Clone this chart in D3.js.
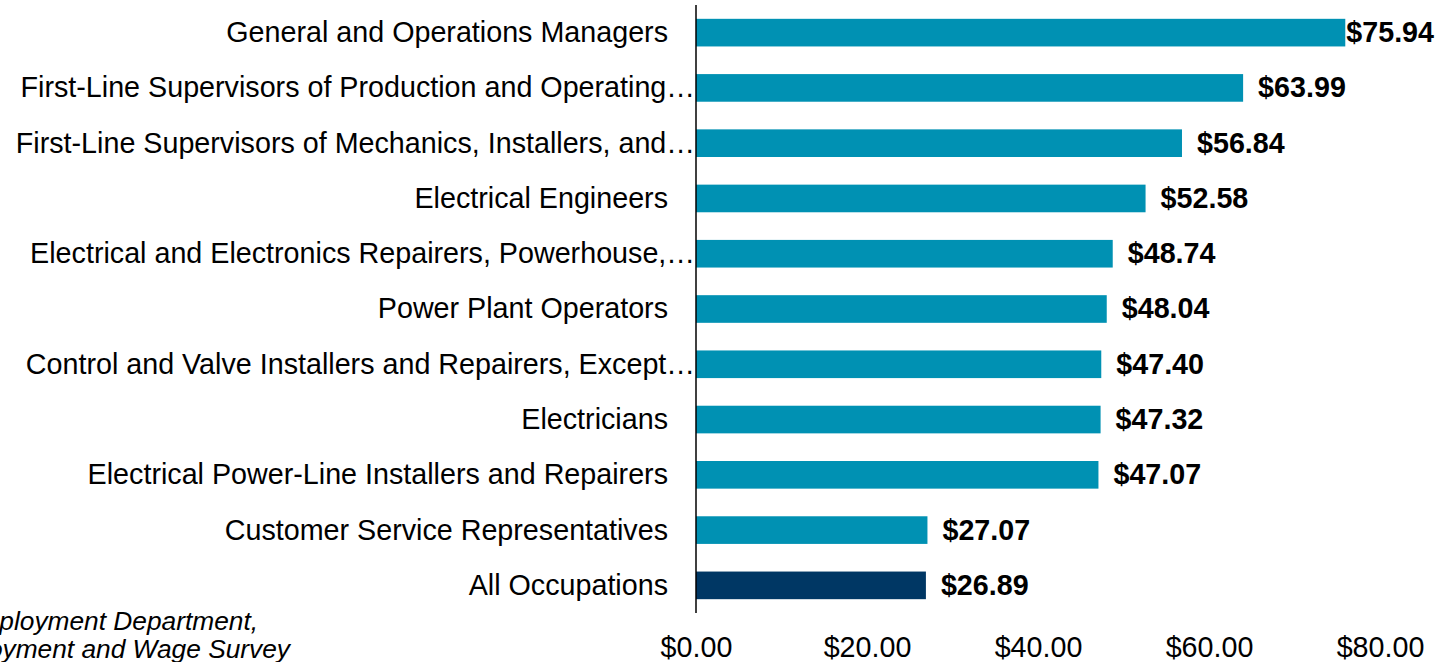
<!DOCTYPE html>
<html>
<head>
<meta charset="utf-8">
<script src="https://cdn.jsdelivr.net/npm/d3@7"></script>
<style>
  body { margin: 0; background: #fff; }
  svg { display: block; font-family: "Liberation Sans", Arial, sans-serif; }
</style>
</head>
<body>
<svg width="1445" height="662"></svg>
<script>
// occupations, top to bottom
let categories = [
    "General and Operations Managers",
    "First-Line Supervisors of Production and Operating…",
    "First-Line Supervisors of Mechanics, Installers, and…",
    "Electrical Engineers",
    "Electrical and Electronics Repairers, Powerhouse,…",
    "Power Plant Operators",
    "Control and Valve Installers and Repairers, Except…",
    "Electricians",
    "Electrical Power-Line Installers and Repairers",
    "Customer Service Representatives",
    "All Occupations"
];
let wages = [75.94, 63.99, 56.84, 52.58, 48.74, 48.04, 47.40, 47.32, 47.07, 27.07, 26.89];
let tickValues = [0, 20, 40, 60, 80];
let sourceLines = ["Source: Oregon Employment Department,", "Occupational Employment and Wage Survey"];

let svgField = d3.select("svg");
let fontSize = 28.7;

let x = d3.scaleLinear().domain([0, 80]).range([696, 1380]);
let y = d3.scaleBand()
    .domain(categories)
    .range([5, 613])
    .paddingInner(0.5)
    .paddingOuter(0.25);

// bars
svgField.selectAll("rect.bar")
    .data(categories)
    .enter().append("rect")
    .attr("class", "bar")
    .attr("x", x(0))
    .attr("y", d => y(d))
    .attr("width", (d, i) => x(wages[i]) - x(0))
    .attr("height", y.bandwidth())
    .attr("fill", d => d === "All Occupations" ? "#003764" : "#0091b3");

// vertical axis line
svgField.append("line")
    .attr("x1", x(0)).attr("x2", x(0))
    .attr("y1", 5).attr("y2", 613)
    .attr("stroke", "#000")
    .attr("stroke-width", 1.5);

// category labels
svgField.selectAll("text.cat")
    .data(categories)
    .enter().append("text")
    .attr("class", "cat")
    .attr("x", d => d.endsWith("…") ? x(0) - 1 : x(0) - 28)
    .attr("y", d => y(d) + y.bandwidth() / 2)
    .attr("dy", "0.33em")
    .attr("text-anchor", "end")
    .attr("font-size", fontSize + "px")
    .attr("fill", "#000")
    .text(d => d);

// value labels
svgField.selectAll("text.val")
    .data(categories)
    .enter().append("text")
    .attr("class", "val")
    .attr("x", (d, i) => x(wages[i]) + 15)
    .attr("y", d => y(d) + y.bandwidth() / 2)
    .attr("dy", "0.33em")
    .attr("font-size", fontSize + "px")
    .attr("font-weight", "bold")
    .attr("fill", "#000")
    .text((d, i) => "$" + wages[i].toFixed(2))
    .each(function (d, i) {
        let w = this.getComputedTextLength();
        if (x(wages[i]) + 15 + w > 1440) {
            d3.select(this).attr("x", x(wages[i]) + 1);
        }
    });

// x axis tick labels
let axis = d3.axisBottom(x)
    .tickValues(tickValues)
    .tickSize(0)
    .tickPadding(0)
    .tickFormat(d => "$" + d.toFixed(2));

let gAxis = svgField.append("g")
    .attr("transform", "translate(0,636)")
    .call(axis);
gAxis.select(".domain").remove();
gAxis.selectAll("text")
    .attr("font-size", fontSize + "px")
    .attr("font-family", "'Liberation Sans', Arial, sans-serif")
    .attr("fill", "#000")
    .attr("dy", "0.74em");

// source note (cut off at the left edge, as in the original)
svgField.selectAll("text.src")
    .data(sourceLines)
    .enter().append("text")
    .attr("class", "src")
    .attr("x", (d, i) => i === 0 ? 258 : 290)
    .attr("y", (d, i) => 630 + i * 28)
    .attr("text-anchor", "end")
    .attr("font-size", "26.3px")
    .attr("font-style", "italic")
    .attr("fill", "#000")
    .text(d => d);
</script>
</body>
</html>
